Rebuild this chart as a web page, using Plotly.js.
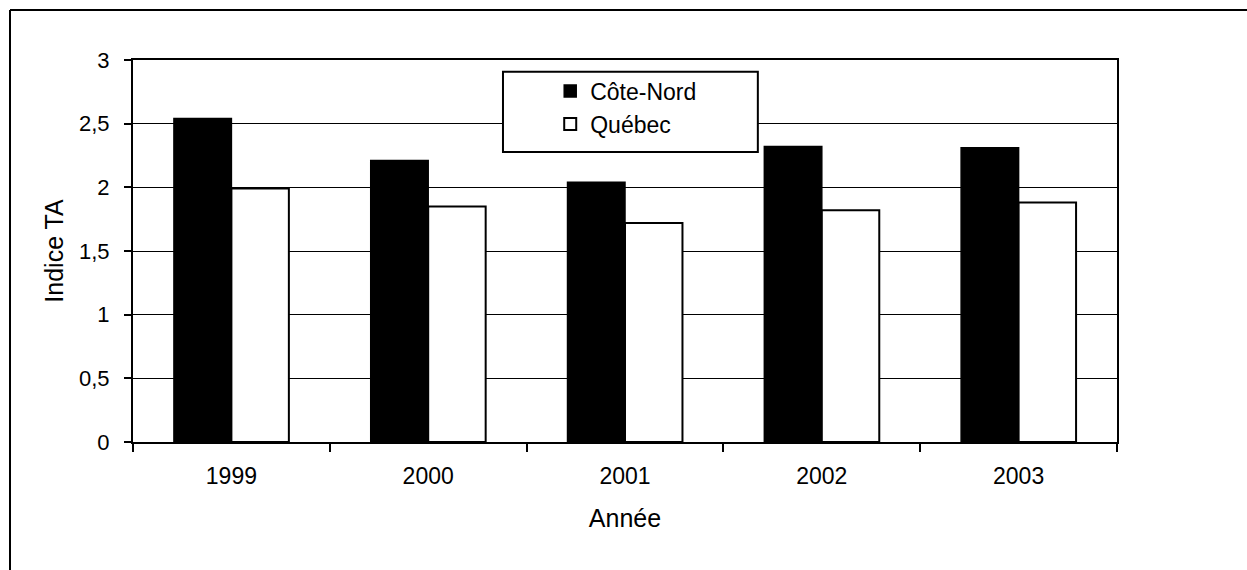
<!DOCTYPE html>
<html>
<head>
<meta charset="utf-8">
<script src="https://cdn.plot.ly/plotly-3.0.1.min.js"></script>
<style>
  html, body { margin: 0; padding: 0; background: #fff; }
  #chart { width: 1247px; height: 570px; }
</style>
</head>
<body>
<div id="chart"></div>
<script>
const years = ['1999', '2000', '2001', '2002', '2003'];
const coteNord = [2.54, 2.21, 2.04, 2.32, 2.31];
const quebec = [1.99, 1.85, 1.72, 1.82, 1.88];
const seriesNames = ['Côte-Nord', 'Québec'];

const FONT = 'Liberation Sans, Arial, sans-serif';

const traces = [
  {
    type: 'bar', name: seriesNames[0], x: years, y: coteNord,
    legendgroup: 'a',
    marker: { color: '#000000', line: { color: '#000000', width: 1.5 } }
  },
  {
    type: 'bar', name: seriesNames[1], x: years, y: quebec,
    legendgroup: 'b',
    marker: { color: '#ffffff', line: { color: '#000000', width: 2 } }
  }
];

const layout = {
  width: 1247, height: 570,
  margin: { l: 133, r: 130, t: 60, b: 128, autoexpand: false },
  paper_bgcolor: '#ffffff', plot_bgcolor: '#ffffff',
  separators: ', ',
  font: { family: FONT, color: '#000000', size: 20 },
  barmode: 'group', bargap: 0.416, bargroupgap: 0,
  showlegend: true,
  legend: {
    x: 0.424, y: 0.975, xanchor: 'left', yanchor: 'top',
    bgcolor: 'rgba(0,0,0,0)', borderwidth: 0,
    font: { family: FONT, size: 23, color: '#000' },
    tracegroupgap: 14, itemwidth: 30, traceorder: 'normal'
  },
  xaxis: {
    type: 'category', automargin: false,
    showline: true, linecolor: '#000', linewidth: 2, mirror: true,
    ticks: 'outside', tickson: 'boundaries', ticklen: 8, tickwidth: 2, tickcolor: '#000',
    ticklabelstandoff: 12,
    tickfont: { family: FONT, size: 23, color: '#000' },
    showgrid: false,
    title: { text: 'Année', standoff: 22, font: { family: FONT, size: 25, color: '#000' } }
  },
  yaxis: {
    range: [0, 3], dtick: 0.5, tick0: 0, automargin: false,
    showline: true, linecolor: '#000', linewidth: 2, mirror: true,
    ticks: 'outside', ticklen: 7, tickwidth: 2, tickcolor: '#000',
    ticklabelstandoff: 10,
    tickfont: { family: FONT, size: 22, color: '#000' },
    showgrid: true, gridcolor: '#000', gridwidth: 1, zeroline: false,
    title: { text: 'Indice TA', standoff: 8, font: { family: FONT, size: 25, color: '#000' } }
  },
  shapes: [
    { type: 'rect', xref: 'paper', yref: 'paper', x0: 0.376, x1: 0.635, y0: 0.759, y1: 0.969,
      line: { color: '#000', width: 2 }, fillcolor: '#ffffff', layer: 'above' },
    { type: 'line', xref: 'paper', yref: 'paper', x0: -0.125, x1: 1.2, y0: 1.131, y1: 1.131,
      line: { color: '#000', width: 2 } },
    { type: 'line', xref: 'paper', yref: 'paper', x0: -0.125, x1: -0.125, y0: 1.131, y1: -0.4,
      line: { color: '#000', width: 2 } }
  ]
};

Plotly.newPlot('chart', traces, layout, { displayModeBar: false, staticPlot: true });
</script>
</body>
</html>
